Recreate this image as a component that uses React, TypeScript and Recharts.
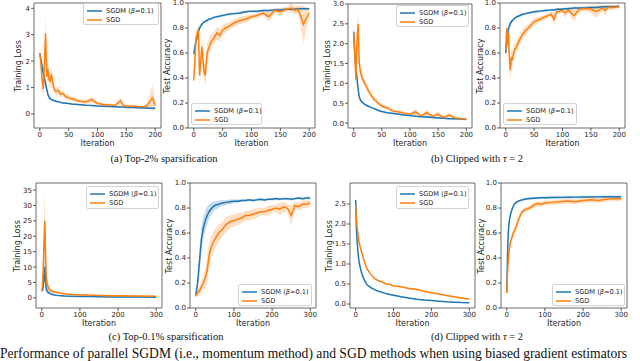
import React from 'react';
import { ComposedChart, Line, Area, XAxis, YAxis, ReferenceArea } from 'recharts';

const BLUE = '#1f77b4';
const ORANGE = '#ff7f0e';
const SANS = '"DejaVu Sans", sans-serif';
const SERIF = '"Liberation Serif", "Times New Roman", serif';

const seriesNames = ['SGDM (β=0.1)', 'SGD'];

// (a) Top-2% sparsification
const lossTop2X = [0, 2, 4, 6, 8, 10, 12, 14, 16, 18, 20, 24, 28, 32, 36, 40, 45, 50, 55, 60, 65, 70, 80, 90, 100, 110, 120, 130, 140, 145, 150, 160, 170, 180, 185, 190, 195, 200];
const lossTop2Sgdm = [2.3, 2.05, 1.8, 1.55, 1.35, 1.15, 0.95, 0.75, 0.64, 0.58, 0.55, 0.51, 0.48, 0.46, 0.44, 0.42, 0.41, 0.4, 0.38, 0.37, 0.36, 0.35, 0.33, 0.32, 0.3, 0.29, 0.28, 0.27, 0.26, 0.26, 0.25, 0.25, 0.24, 0.23, 0.23, 0.22, 0.22, 0.22];
const lossTop2SgdmBand = [0.05, 0.15, 0.2, 0.2, 0.2, 0.2, 0.15, 0.1, 0.08, 0.06, 0.05, 0.04, 0.04, 0.03, 0.03, 0.03, 0.03, 0.03, 0.03, 0.03, 0.03, 0.02, 0.02, 0.02, 0.02, 0.02, 0.02, 0.02, 0.02, 0.02, 0.02, 0.02, 0.02, 0.02, 0.02, 0.02, 0.02, 0.02];
const lossTop2Sgd = [2.3, 1.9, 1.3, 0.95, 1.9, 3.05, 1.4, 1.7, 1.3, 1.25, 1.5, 1.0, 0.85, 0.9, 0.75, 0.78, 0.65, 0.62, 0.58, 0.55, 0.5, 0.48, 0.45, 0.55, 0.4, 0.36, 0.34, 0.32, 0.5, 0.32, 0.3, 0.3, 0.28, 0.27, 0.3, 0.45, 0.6, 0.32];
const lossTop2SgdBand = [0.1, 0.3, 0.4, 0.3, 0.5, 0.7, 0.4, 0.4, 0.3, 0.25, 0.3, 0.2, 0.15, 0.15, 0.12, 0.12, 0.1, 0.1, 0.08, 0.08, 0.08, 0.07, 0.07, 0.12, 0.06, 0.06, 0.05, 0.05, 0.15, 0.05, 0.05, 0.05, 0.04, 0.04, 0.08, 0.25, 0.5, 0.15];

const accTop2X = [0, 2, 4, 6, 8, 10, 12, 14, 16, 18, 20, 23, 26, 30, 35, 40, 45, 50, 55, 60, 70, 80, 90, 100, 110, 120, 130, 140, 150, 160, 170, 175, 180, 185, 190, 195, 200];
const accTop2Sgdm = [0.59, 0.65, 0.7, 0.73, 0.77, 0.8, 0.815, 0.83, 0.84, 0.85, 0.855, 0.86, 0.87, 0.875, 0.885, 0.89, 0.895, 0.9, 0.905, 0.91, 0.915, 0.92, 0.93, 0.935, 0.935, 0.94, 0.94, 0.945, 0.945, 0.95, 0.95, 0.95, 0.955, 0.955, 0.955, 0.955, 0.955];
const accTop2SgdmBand = [0.02, 0.03, 0.03, 0.02, 0.02, 0.02, 0.02, 0.01, 0.01, 0.01, 0.01, 0.01, 0.01, 0.01, 0.01, 0.01, 0.01, 0.01, 0.01, 0.01, 0.01, 0.01, 0.01, 0.01, 0.01, 0.01, 0.01, 0.01, 0.01, 0.01, 0.01, 0.01, 0.01, 0.01, 0.01, 0.01, 0.01];
const accTop2Sgd = [0.38, 0.55, 0.72, 0.76, 0.78, 0.42, 0.52, 0.65, 0.55, 0.45, 0.42, 0.6, 0.64, 0.69, 0.72, 0.76, 0.74, 0.78, 0.8, 0.81, 0.84, 0.86, 0.87, 0.89, 0.9, 0.92, 0.89, 0.94, 0.93, 0.95, 0.96, 0.94, 0.95, 0.9, 0.83, 0.88, 0.92];
const accTop2SgdBand = [0.02, 0.08, 0.06, 0.05, 0.05, 0.08, 0.1, 0.08, 0.1, 0.08, 0.08, 0.07, 0.07, 0.06, 0.05, 0.05, 0.05, 0.04, 0.04, 0.03, 0.03, 0.03, 0.03, 0.02, 0.02, 0.02, 0.04, 0.02, 0.03, 0.02, 0.04, 0.03, 0.03, 0.08, 0.15, 0.08, 0.04];

// (b) Clipped with tau = 2
const lossClipX = [0, 1, 2, 3, 4, 5, 6, 8, 10, 12, 15, 18, 20, 25, 30, 35, 40, 45, 50, 60, 70, 80, 90, 100, 110, 120, 130, 140, 150, 160, 170, 180, 190, 200];
const lossClipSgdm = [2.3, 2.0, 1.75, 1.55, 1.4, 1.25, 1.12, 0.85, 0.66, 0.58, 0.53, 0.49, 0.47, 0.43, 0.4, 0.37, 0.34, 0.31, 0.29, 0.26, 0.24, 0.22, 0.2, 0.19, 0.17, 0.16, 0.15, 0.14, 0.13, 0.12, 0.11, 0.11, 0.1, 0.09];
const lossClipSgdmBand = [0.05, 0.1, 0.1, 0.1, 0.1, 0.1, 0.1, 0.08, 0.06, 0.05, 0.04, 0.03, 0.03, 0.03, 0.02, 0.02, 0.02, 0.02, 0.02, 0.02, 0.02, 0.02, 0.02, 0.02, 0.02, 0.02, 0.02, 0.02, 0.02, 0.02, 0.02, 0.02, 0.02, 0.02];
const lossClipSgd = [2.3, 2.0, 1.8, 1.4, 1.1, 1.6, 2.1, 2.5, 1.5, 1.3, 1.15, 1.05, 1.0, 0.85, 0.72, 0.62, 0.55, 0.48, 0.43, 0.38, 0.3, 0.28, 0.25, 0.22, 0.28, 0.18, 0.26, 0.17, 0.22, 0.14, 0.2, 0.13, 0.11, 0.1];
const lossClipSgdBand = [0.05, 0.1, 0.15, 0.2, 0.2, 0.3, 0.3, 0.3, 0.2, 0.15, 0.12, 0.1, 0.1, 0.08, 0.07, 0.06, 0.05, 0.05, 0.05, 0.05, 0.04, 0.04, 0.04, 0.04, 0.08, 0.03, 0.08, 0.03, 0.07, 0.03, 0.06, 0.03, 0.03, 0.02];

const accClipX = [0, 1, 2, 3, 4, 5, 6, 8, 10, 12, 14, 16, 18, 20, 25, 30, 35, 40, 50, 60, 70, 80, 85, 90, 100, 105, 110, 120, 130, 140, 150, 160, 170, 175, 180, 190, 200];
const accClipSgdm = [0.6, 0.65, 0.7, 0.74, 0.77, 0.79, 0.81, 0.835, 0.85, 0.86, 0.87, 0.88, 0.885, 0.89, 0.9, 0.91, 0.915, 0.92, 0.93, 0.935, 0.94, 0.945, 0.945, 0.95, 0.95, 0.955, 0.955, 0.96, 0.96, 0.96, 0.965, 0.965, 0.97, 0.97, 0.97, 0.97, 0.975];
const accClipSgdmBand = [0.03, 0.03, 0.03, 0.03, 0.02, 0.02, 0.02, 0.02, 0.02, 0.01, 0.01, 0.01, 0.01, 0.01, 0.01, 0.01, 0.01, 0.01, 0.01, 0.01, 0.01, 0.01, 0.01, 0.01, 0.01, 0.01, 0.01, 0.01, 0.01, 0.01, 0.01, 0.01, 0.01, 0.01, 0.01, 0.01, 0.01];
const accClipSgd = [0.62, 0.72, 0.8, 0.66, 0.7, 0.76, 0.6, 0.46, 0.56, 0.55, 0.6, 0.63, 0.64, 0.66, 0.71, 0.75, 0.78, 0.8, 0.85, 0.87, 0.89, 0.91, 0.87, 0.93, 0.94, 0.92, 0.945, 0.9, 0.95, 0.955, 0.95, 0.93, 0.96, 0.94, 0.965, 0.965, 0.97];
const accClipSgdBand = [0.02, 0.05, 0.05, 0.06, 0.06, 0.06, 0.08, 0.08, 0.07, 0.06, 0.06, 0.05, 0.05, 0.05, 0.04, 0.04, 0.04, 0.03, 0.03, 0.02, 0.02, 0.02, 0.05, 0.02, 0.02, 0.04, 0.02, 0.05, 0.02, 0.02, 0.03, 0.05, 0.02, 0.04, 0.02, 0.02, 0.01];

// (c) Top-0.1% sparsification
const lossTop01X = [0, 2, 4, 6, 8, 10, 12, 14, 17, 20, 25, 30, 40, 50, 60, 80, 100, 120, 150, 180, 200, 250, 300];
const lossTop01Sgdm = [2.3, 2.5, 4, 7, 10, 5, 3, 2.2, 1.8, 1.5, 1.2, 1.0, 0.8, 0.7, 0.6, 0.5, 0.45, 0.4, 0.35, 0.3, 0.3, 0.25, 0.2];
const lossTop01SgdmBand = [0.2, 0.5, 2, 3, 4, 2.5, 1.5, 1, 0.6, 0.5, 0.4, 0.3, 0.2, 0.2, 0.15, 0.1, 0.1, 0.1, 0.1, 0.1, 0.1, 0.1, 0.1];
const lossTop01Sgd = [2.3, 4, 10, 18, 25, 14, 7, 4.5, 3.5, 2.8, 2.3, 2.0, 1.7, 1.5, 1.3, 1.1, 1.0, 0.9, 0.8, 0.7, 0.7, 0.6, 0.5];
const lossTop01SgdBand = [0.2, 2, 5, 8, 10, 6, 3, 2, 1.2, 1, 0.7, 0.6, 0.4, 0.3, 0.3, 0.2, 0.2, 0.2, 0.2, 0.2, 0.2, 0.2, 0.2];

const accTop01X = [0, 5, 10, 15, 20, 25, 30, 35, 40, 45, 50, 60, 70, 80, 90, 100, 110, 120, 130, 140, 150, 160, 170, 180, 190, 200, 210, 220, 230, 240, 250, 260, 270, 280, 290, 300];
const accTop01Sgdm = [0.1, 0.2, 0.38, 0.55, 0.64, 0.7, 0.74, 0.77, 0.79, 0.81, 0.82, 0.83, 0.84, 0.845, 0.85, 0.855, 0.855, 0.86, 0.86, 0.865, 0.86, 0.865, 0.87, 0.865, 0.87, 0.87, 0.875, 0.87, 0.875, 0.875, 0.87, 0.875, 0.88, 0.875, 0.88, 0.88];
const accTop01SgdmBand = [0.02, 0.05, 0.1, 0.1, 0.09, 0.08, 0.07, 0.06, 0.05, 0.04, 0.035, 0.03, 0.025, 0.02, 0.02, 0.015, 0.015, 0.01, 0.01, 0.01, 0.01, 0.01, 0.01, 0.01, 0.01, 0.01, 0.01, 0.01, 0.01, 0.01, 0.01, 0.01, 0.01, 0.01, 0.01, 0.01];
const accTop01Sgd = [0.1, 0.12, 0.14, 0.17, 0.2, 0.24, 0.3, 0.42, 0.48, 0.52, 0.55, 0.6, 0.63, 0.67, 0.69, 0.7, 0.71, 0.72, 0.74, 0.74, 0.75, 0.76, 0.77, 0.77, 0.78, 0.79, 0.8, 0.79, 0.81, 0.8, 0.74, 0.82, 0.81, 0.83, 0.83, 0.84];
const accTop01SgdBand = [0.02, 0.03, 0.04, 0.05, 0.06, 0.08, 0.1, 0.1, 0.09, 0.08, 0.08, 0.07, 0.06, 0.06, 0.05, 0.05, 0.05, 0.04, 0.04, 0.04, 0.04, 0.04, 0.03, 0.03, 0.04, 0.03, 0.03, 0.05, 0.04, 0.03, 0.08, 0.03, 0.03, 0.03, 0.03, 0.03];

// (d) Clipped with tau = 2, longer run
const lossClipLongX = [0, 2, 4, 6, 8, 10, 15, 20, 25, 30, 40, 50, 60, 70, 80, 90, 100, 120, 140, 160, 180, 200, 220, 240, 260, 280, 300];
const lossClipLongSgdm = [2.6, 1.9, 1.55, 1.3, 1.12, 1.0, 0.8, 0.66, 0.56, 0.48, 0.41, 0.36, 0.32, 0.29, 0.26, 0.24, 0.22, 0.18, 0.15, 0.12, 0.1, 0.085, 0.07, 0.055, 0.045, 0.035, 0.03];
const lossClipLongSgdmBand = [0.15, 0.08, 0.05, 0.04, 0.03, 0.03, 0.02, 0.02, 0.02, 0.02, 0.02, 0.02, 0.01, 0.01, 0.01, 0.01, 0.01, 0.01, 0.01, 0.01, 0.01, 0.01, 0.01, 0.01, 0.01, 0.01, 0.01];
const lossClipLongSgd = [2.45, 2.1, 1.9, 1.75, 1.6, 1.5, 1.32, 1.15, 1.0, 0.88, 0.74, 0.64, 0.58, 0.55, 0.5, 0.49, 0.45, 0.43, 0.39, 0.37, 0.32, 0.28, 0.25, 0.21, 0.18, 0.15, 0.12];
const lossClipLongSgdBand = [0.1, 0.06, 0.05, 0.05, 0.04, 0.04, 0.03, 0.03, 0.03, 0.03, 0.02, 0.02, 0.02, 0.02, 0.02, 0.02, 0.02, 0.02, 0.02, 0.02, 0.02, 0.02, 0.02, 0.02, 0.02, 0.02, 0.02];

const accClipLongX = [0, 2, 4, 6, 8, 10, 15, 20, 25, 30, 40, 50, 60, 70, 80, 90, 100, 120, 140, 160, 180, 200, 220, 240, 260, 280, 300];
const accClipLongSgdm = [0.12, 0.42, 0.6, 0.68, 0.72, 0.75, 0.8, 0.83, 0.845, 0.855, 0.865, 0.872, 0.876, 0.878, 0.88, 0.882, 0.882, 0.884, 0.885, 0.886, 0.887, 0.888, 0.888, 0.889, 0.89, 0.89, 0.89];
const accClipLongSgdmBand = [0.02, 0.05, 0.04, 0.03, 0.02, 0.01, 0.01, 0.01, 0.01, 0.01, 0.01, 0.01, 0.01, 0.01, 0.01, 0.01, 0.01, 0.01, 0.01, 0.01, 0.01, 0.01, 0.01, 0.01, 0.01, 0.01, 0.01];
const accClipLongSgd = [0.12, 0.28, 0.38, 0.45, 0.49, 0.53, 0.58, 0.62, 0.65, 0.7, 0.77, 0.79, 0.8, 0.82, 0.835, 0.83, 0.84, 0.845, 0.85, 0.855, 0.85, 0.86, 0.865, 0.86, 0.87, 0.875, 0.875];
const accClipLongSgdBand = [0.02, 0.04, 0.04, 0.03, 0.03, 0.03, 0.03, 0.03, 0.03, 0.03, 0.02, 0.02, 0.02, 0.02, 0.02, 0.02, 0.02, 0.02, 0.02, 0.02, 0.02, 0.02, 0.02, 0.02, 0.02, 0.02, 0.02];

const iterTicks200 = [0, 50, 100, 150, 200];
const iterTicks300 = [0, 100, 200, 300];
const accTicks = [0, 0.2, 0.4, 0.6, 0.8, 1.0];

type Box = { l: number; t: number; w: number; h: number };

function buildRows(x: number[], m1: number[], s1: number[], m2: number[], s2: number[]) {
  return x.map((v, i) => ({
    x: v,
    a: m1[i],
    ab: [m1[i] - s1[i], m1[i] + s1[i]],
    b: m2[i],
    bb: [m2[i] - s2[i], m2[i] + s2[i]],
  }));
}

const tickStyle = { fontSize: 7, fill: '#262626', fontFamily: SANS };
const tickLine = { stroke: '#333', strokeWidth: 0.8 };

function Panel(props: {
  box: Box;
  rows: any[];
  xDomain: [number, number];
  xTicks: number[];
  yDomain: [number, number];
  yTicks: number[];
  digits: number;
  ylabel: string;
  ylabelX: number;
}) {
  const { box, rows, xDomain, xTicks, yDomain, yTicks, digits, ylabel, ylabelX } = props;
  const padL = 30;
  const padT = 5;
  const padR = 5;
  const axisH = 14;
  return (
    <>
      <div style={{ position: 'absolute', left: box.l - padL, top: box.t - padT }}>
        <ComposedChart
          width={box.w + padL + padR}
          height={box.h + padT + axisH}
          data={rows}
          margin={{ top: padT, right: padR, left: 0, bottom: 0 }}
        >
          <XAxis
            type="number"
            dataKey="x"
            domain={xDomain}
            ticks={xTicks}
            interval={0}
            allowDataOverflow
            height={axisH}
            axisLine={false}
            tickSize={3}
            tickMargin={1}
            tickLine={tickLine}
            tick={tickStyle}
          />
          <YAxis
            type="number"
            domain={yDomain}
            ticks={yTicks}
            interval={0}
            allowDataOverflow
            width={padL}
            axisLine={false}
            tickSize={3}
            tickMargin={1}
            tickLine={tickLine}
            tick={tickStyle}
            tickFormatter={(v: number) => v.toFixed(digits)}
          />
          <Area dataKey="ab" stroke="none" fill={BLUE} fillOpacity={0.25} isAnimationActive={false} />
          <Line dataKey="a" stroke={BLUE} strokeWidth={1.5} dot={false} isAnimationActive={false} />
          <Area dataKey="bb" stroke="none" fill={ORANGE} fillOpacity={0.25} isAnimationActive={false} />
          <Line dataKey="b" stroke={ORANGE} strokeWidth={1.5} dot={false} isAnimationActive={false} />
          <ReferenceArea
            x1={xDomain[0]}
            x2={xDomain[1]}
            y1={yDomain[0]}
            y2={yDomain[1]}
            fill="none"
            stroke="#444"
            strokeWidth={0.8}
          />
        </ComposedChart>
      </div>
      <div
        style={{
          position: 'absolute',
          left: ylabelX,
          top: box.t + box.h / 2,
          transform: 'translate(-50%, -50%) rotate(-90deg)',
          fontFamily: SANS,
          fontSize: 8,
          color: '#262626',
          whiteSpace: 'nowrap',
        }}
      >
        {ylabel}
      </div>
      <div
        style={{
          position: 'absolute',
          left: box.l,
          width: box.w,
          top: box.t + box.h + 11,
          textAlign: 'center',
          fontFamily: SANS,
          fontSize: 8,
          color: '#262626',
          whiteSpace: 'nowrap',
        }}
      >
        Iteration
      </div>
    </>
  );
}

function withBeta(name: string) {
  const parts = name.split('β');
  if (parts.length < 2) return name;
  return (
    <>
      {parts[0]}
      <i>β</i>
      {parts[1]}
    </>
  );
}

function LegendBox({ l, t, w, h }: Box) {
  const colors = [BLUE, ORANGE];
  return (
    <div
      style={{
        position: 'absolute',
        left: l,
        top: t,
        width: w,
        height: h,
        boxSizing: 'border-box',
        border: '0.8px solid #d4d4d4',
        borderRadius: 2,
        background: 'rgba(255,255,255,0.85)',
        fontFamily: SANS,
        fontSize: 6.6,
        color: '#262626',
        padding: '2px 3px',
      }}
    >
      {seriesNames.map((name, i) => (
        <div key={name} style={{ display: 'flex', alignItems: 'center', height: 9 }}>
          <svg width={15} height={4} style={{ flex: 'none' }}>
            <line x1={0} y1={2} x2={15} y2={2} stroke={colors[i]} strokeWidth={1.5} />
          </svg>
          <span style={{ marginLeft: 4, whiteSpace: 'nowrap' }}>{withBeta(name)}</span>
        </div>
      ))}
    </div>
  );
}

function Caption({ cx, top, children }: { cx: number; top: number; children: React.ReactNode }) {
  return (
    <div
      style={{
        position: 'absolute',
        left: cx - 120,
        width: 240,
        top,
        textAlign: 'center',
        fontFamily: SERIF,
        fontSize: 10.5,
        color: '#111',
        whiteSpace: 'nowrap',
      }}
    >
      {children}
    </div>
  );
}

export default function App() {
  return (
    <div
      style={{
        position: 'absolute',
        left: 0,
        top: 0,
        width: 640,
        height: 361,
        overflow: 'hidden',
        background: '#fff',
      }}
    >
      <Panel
        box={{ l: 34, t: 3, w: 127, h: 125 }}
        rows={buildRows(lossTop2X, lossTop2Sgdm, lossTop2SgdmBand, lossTop2Sgd, lossTop2SgdBand)}
        xDomain={[-10, 210]}
        xTicks={iterTicks200}
        yDomain={[-0.53, 4.2]}
        yTicks={[0, 1, 2, 3, 4]}
        digits={0}
        ylabel="Training Loss"
        ylabelX={18}
      />
      <Panel
        box={{ l: 188, t: 3, w: 127, h: 125 }}
        rows={buildRows(accTop2X, accTop2Sgdm, accTop2SgdmBand, accTop2Sgd, accTop2SgdBand)}
        xDomain={[-10, 210]}
        xTicks={iterTicks200}
        yDomain={[0, 1]}
        yTicks={accTicks}
        digits={1}
        ylabel="Test Accuracy"
        ylabelX={167}
      />
      <Panel
        box={{ l: 348, t: 4, w: 124, h: 124 }}
        rows={buildRows(lossClipX, lossClipSgdm, lossClipSgdmBand, lossClipSgd, lossClipSgdBand)}
        xDomain={[-10, 210]}
        xTicks={iterTicks200}
        yDomain={[-0.125, 3.0]}
        yTicks={[0, 0.5, 1, 1.5, 2, 2.5, 3]}
        digits={1}
        ylabel="Training Loss"
        ylabelX={327}
      />
      <Panel
        box={{ l: 500, t: 3, w: 125, h: 125 }}
        rows={buildRows(accClipX, accClipSgdm, accClipSgdmBand, accClipSgd, accClipSgdBand)}
        xDomain={[-10, 210]}
        xTicks={iterTicks200}
        yDomain={[0, 1]}
        yTicks={accTicks}
        digits={1}
        ylabel="Test Accuracy"
        ylabelX={480}
      />
      <Panel
        box={{ l: 36, t: 183, w: 126, h: 125 }}
        rows={buildRows(lossTop01X, lossTop01Sgdm, lossTop01SgdmBand, lossTop01Sgd, lossTop01SgdBand)}
        xDomain={[-15, 315]}
        xTicks={iterTicks300}
        yDomain={[-3.3, 37.3]}
        yTicks={[0, 5, 10, 15, 20, 25, 30, 35]}
        digits={0}
        ylabel="Training Loss"
        ylabelX={17}
      />
      <Panel
        box={{ l: 190, t: 183, w: 126, h: 125 }}
        rows={buildRows(accTop01X, accTop01Sgdm, accTop01SgdmBand, accTop01Sgd, accTop01SgdBand)}
        xDomain={[-15, 315]}
        xTicks={iterTicks300}
        yDomain={[0, 1]}
        yTicks={accTicks}
        digits={1}
        ylabel="Test Accuracy"
        ylabelX={169}
      />
      <Panel
        box={{ l: 350, t: 183, w: 125, h: 125 }}
        rows={buildRows(lossClipLongX, lossClipLongSgdm, lossClipLongSgdmBand, lossClipLongSgd, lossClipLongSgdBand)}
        xDomain={[-15, 315]}
        xTicks={iterTicks300}
        yDomain={[-0.1, 3.025]}
        yTicks={[0, 0.5, 1, 1.5, 2, 2.5]}
        digits={1}
        ylabel="Training Loss"
        ylabelX={329}
      />
      <Panel
        box={{ l: 501, t: 183, w: 126, h: 125 }}
        rows={buildRows(accClipLongX, accClipLongSgdm, accClipLongSgdmBand, accClipLongSgd, accClipLongSgdBand)}
        xDomain={[-15, 315]}
        xTicks={iterTicks300}
        yDomain={[0, 1]}
        yTicks={accTicks}
        digits={1}
        ylabel="Test Accuracy"
        ylabelX={481}
      />

      <LegendBox l={83} t={3} w={76} h={22} />
      <LegendBox l={191} t={103} w={71} h={22} />
      <LegendBox l={396} t={5} w={73} h={22} />
      <LegendBox l={503} t={103} w={74} h={22} />
      <LegendBox l={86} t={186} w={73} h={23} />
      <LegendBox l={238} t={284} w={74} h={22} />
      <LegendBox l={396} t={186} w={73} h={23} />
      <LegendBox l={552} t={284} w={73} h={22} />

      <Caption cx={164} top={153}>(a) Top-2% sparsification</Caption>
      <Caption cx={477} top={153}>
        (b) Clipped with <i>τ</i> = 2
      </Caption>
      <Caption cx={166} top={331}>(c) Top-0.1% sparsification</Caption>
      <Caption cx={477} top={331}>
        (d) Clipped with <i>τ</i> = 2
      </Caption>

      <div
        style={{
          position: 'absolute',
          left: 0,
          top: 346,
          fontFamily: SERIF,
          fontSize: 13.6,
          lineHeight: '15px',
          color: '#111',
          whiteSpace: 'nowrap',
        }}
      >
        Performance of parallel SGDM (i.e., momentum method) and SGD methods when using biased gradient estimators
      </div>
    </div>
  );
}
